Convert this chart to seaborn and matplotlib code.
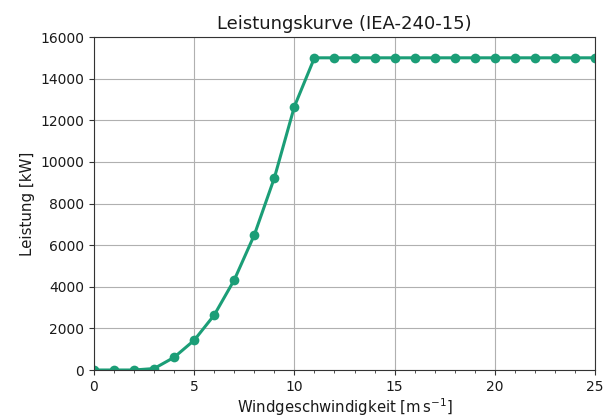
import matplotlib
matplotlib.use("Agg")
import matplotlib.pyplot as plt
from matplotlib.ticker import MultipleLocator
import seaborn as sns
import pandas as pd

# Power curve of the IEA 15 MW reference turbine (240 m rotor)
wind_speed = list(range(0, 26))
power_kw = [0, 0, 0, 70, 610, 1430, 2640, 4330, 6490, 9230, 12660,
            15000, 15000, 15000, 15000, 15000, 15000, 15000, 15000,
            15000, 15000, 15000, 15000, 15000, 15000, 15000]

df = pd.DataFrame({"v": wind_speed, "P": power_kw})

sns.set_style("ticks")
plt.rcParams["font.family"] = ["DejaVu Sans"]
plt.rcParams["text.color"] = "#1a1a1a"
plt.rcParams["axes.labelcolor"] = "#1a1a1a"

fig = plt.figure(figsize=(6.06, 4.19), dpi=100)
ax = fig.add_axes([94 / 606, 1 - 370 / 419, (595 - 94) / 606, (370 - 37) / 419])

color = sns.color_palette("Dark2")[0]
sns.lineplot(data=df, x="v", y="P", ax=ax, color=color, linewidth=2.2,
             marker="o", markersize=7, markeredgewidth=0)

ax.set_xlim(0, 25)
ax.set_ylim(0, 16000)
ax.xaxis.set_major_locator(MultipleLocator(5))
ax.xaxis.set_minor_locator(MultipleLocator(1))
ax.yaxis.set_major_locator(MultipleLocator(2000))
ax.grid(True, which="major", color="#b0b0b0", linewidth=0.8)
ax.tick_params(which="major", length=3.5, width=0.8, labelsize=10,
               color="#333333", labelcolor="#1a1a1a")
ax.tick_params(which="minor", length=2, width=0.6, color="#333333")
for s in ax.spines.values():
    s.set_color("#333333")
    s.set_linewidth(0.8)

ax.set_xlabel(r"Windgeschwindigkeit [$\mathrm{m\,s^{-1}}$]", fontsize=10.7,
              labelpad=2)
ax.set_ylabel("Leistung [kW]", fontsize=10.8)
ax.set_title("Leistungskurve (IEA-240-15)", fontsize=13)

fig.savefig("out.png", dpi=100)
